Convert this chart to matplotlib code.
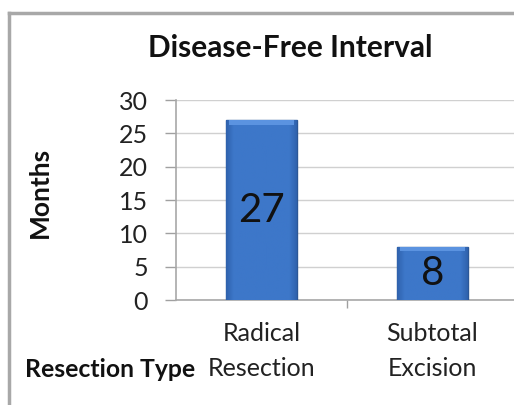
import matplotlib
matplotlib.use("Agg")
import matplotlib.pyplot as plt
import numpy as np
from matplotlib.lines import Line2D

# chart data
categories = ["Radical\nResection", "Subtotal\nExcision"]
months = [27, 8]
y_ticks = [0, 5, 10, 15, 20, 25, 30]

plt.rcParams['font.family'] = ['Lato', 'DejaVu Sans']

fig = plt.figure(figsize=(5.14, 4.05), dpi=100)
W, H = 514, 405
# axes: left 176px, right 518px (runs past the edge), y=0 at 300px, y=30 at 100px
ax = fig.add_axes([176 / W, 1 - 300 / H, 342 / W, 200 / H])

x = np.arange(len(categories))
bars = ax.bar(x, months, width=0.41, color="#3b74c6", edgecolor="#2c5796",
              linewidth=1.0, zorder=3)

# mild horizontal shading so the bars look bevelled
grad = np.linspace(0, 1, 64)
shade = 1 - np.clip(np.abs(grad - 0.5) * 2 - 0.8, 0, 1) * 2.5
cmap = matplotlib.colors.LinearSegmentedColormap.from_list(
    "b", ["#2f62ad", "#3d77c9"])
for b in bars:
    x0, y0 = b.get_x(), b.get_y()
    w, h = b.get_width(), b.get_height()
    im = ax.imshow(shade[np.newaxis, :], cmap=cmap, aspect="auto",
                   extent=[x0, x0 + w, y0, y0 + h], zorder=3.5, vmin=0.5, vmax=1)
    im.set_clip_path(b)
    # lighter top bevel
    ax.bar(x0 + w / 2, 0.7, bottom=y0 + h - 0.7, width=w * 0.92,
           color="#5b93e0", linewidth=0, zorder=3.6)

for xi, v in zip(x, months):
    ax.text(xi, v / 2, str(v), ha="center", va="center", fontsize=29,
            color="#111111", zorder=5)

ax.set_xlim(-0.5, len(categories) - 0.5)
ax.set_ylim(0, 30)
ax.set_yticks(y_ticks)
ax.set_yticklabels([str(t) for t in y_ticks], fontsize=18, color="#222222")
ax.set_xticks(x)
ax.set_xticklabels(categories, fontsize=18, color="#222222", linespacing=1.6)
ax.tick_params(axis="x", length=0, pad=16)
ax.tick_params(axis="y", length=8, width=1, color="#a0a0a0", pad=12)
# category boundary ticks
ax.set_xticks([0.5, 1.5], minor=True)
ax.tick_params(axis="x", which="minor", length=6, width=1, color="#a0a0a0")

ax.grid(axis="y", color="#d0d0d0", linewidth=1, zorder=0)
ax.set_axisbelow(True)
for s in ["top", "right"]:
    ax.spines[s].set_visible(False)
ax.spines["left"].set_color("#a8a8a8")
ax.spines["bottom"].set_color("#a8a8a8")
ax.spines["left"].set_linewidth(1.2)
ax.spines["bottom"].set_linewidth(1.2)

fig.text(290 / W, 1 - 48 / H, "Disease-Free Interval", ha="center", va="center",
         fontsize=21.5, fontweight="bold", color="#111111")
fig.text(40 / W, 1 - 192 / H, "Months", ha="center", va="center", rotation=90,
         fontsize=19, fontweight="bold", color="#111111")
fig.text(25 / W, 1 - 377 / H, "Resection Type", ha="left", va="baseline",
         fontsize=17.8, fontweight="bold", color="#111111")

# outer chart frame (only top and left visible)
fig.add_artist(Line2D([9 / W, 9 / W], [0, 1 - 13 / H], transform=fig.transFigure,
                      color="#a8a8a8", linewidth=2.5))
fig.add_artist(Line2D([9 / W, 1], [1 - 13 / H, 1 - 13 / H], transform=fig.transFigure,
                      color="#a8a8a8", linewidth=2.5))

fig.savefig("out.png", dpi=100)
